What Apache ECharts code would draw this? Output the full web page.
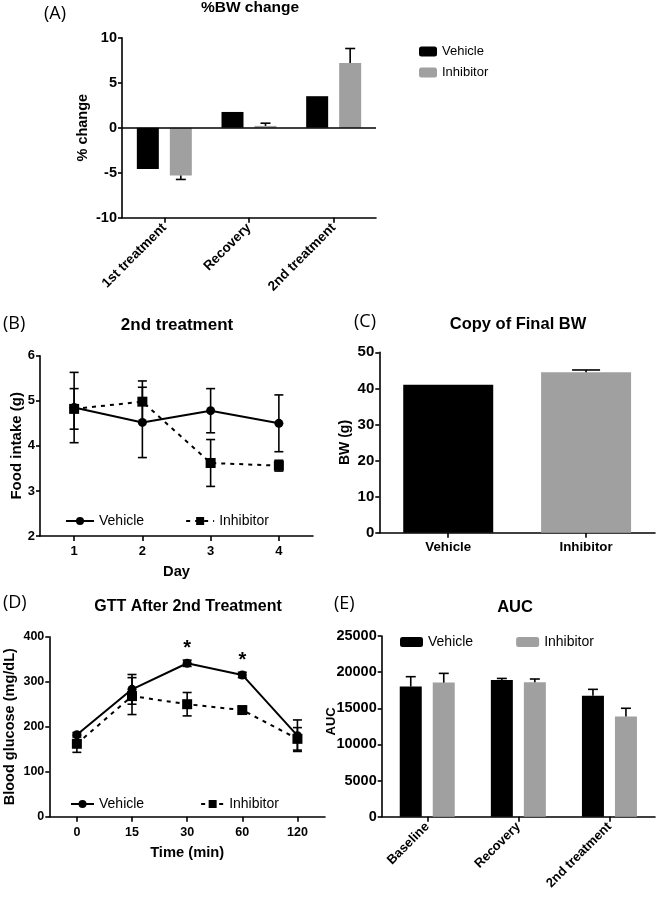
<!DOCTYPE html>
<html><head><meta charset="utf-8">
<script src="https://cdn.jsdelivr.net/npm/echarts@6/dist/echarts.min.js"></script>
<style>html,body{margin:0;padding:0;background:#fff}#c{width:658px;height:900px}</style>
</head><body><div id="c"></div>
<script>
// ---- Panel A: %BW change ----
const catsA = ['1st treatment', 'Recovery', '2nd treatment'];
const bwVeh = [-4.6, 1.75, 3.5];
const bwVehErr = [0, 0, 0];
const bwInh = [-5.3, 0.2, 7.2];
const bwInhErr = [0.45, 0.3, 1.6];

// ---- Panel B: food intake, 2nd treatment ----
const days = ['1', '2', '3', '4'];
const foodVeh = [4.85, 4.52, 4.78, 4.50];
const foodVehErr = [0.78, 0.78, 0.49, 0.63];
const foodInh = [4.82, 4.98, 3.62, 3.56];
const foodInhErr = [0.45, 0.46, 0.52, 0.12];

// ---- Panel C: final BW ----
const groups = ['Vehicle', 'Inhibitor'];
const finalBW = [41.0, 44.5];
const finalBWErr = [0, 0.6];

// ---- Panel D: GTT ----
const times = ['0', '15', '30', '60', '120'];
const gttVeh = [182, 283, 341, 315, 180];
const gttVehErr = [5, 33, 7, 6, 35];
const gttInh = [162, 268, 250, 237, 173];
const gttInhErr = [19, 41, 26, 7, 25];
const gttStars = ['', '', '*', '*', ''];

// ---- Panel E: AUC ----
const aucCats = ['Baseline', 'Recovery', '2nd treatment'];
const aucVeh = [18000, 18900, 16750];
const aucVehErr = [1370, 230, 870];
const aucInh = [18550, 18600, 13850];
const aucInhErr = [1280, 450, 1150];

const BOLD = 'Liberation Sans';
const REG = 'Liberation Sans';
const BLACK = '#000000';
const GRAY = '#a0a0a0';

function makeErr(offset, mode, cap) {
  return function (params, api) {
    const i = api.value(0), v = api.value(1), e = api.value(2);
    if (!e) return null;
    let lo, hi;
    if (mode === 'both') { lo = v - e; hi = v + e; }
    else if (v >= 0) { lo = v; hi = v + e; }
    else { lo = v - e; hi = v; }
    const a = api.coord([i, lo]), b = api.coord([i, hi]);
    const x = a[0] + offset;
    const st = { stroke: BLACK, lineWidth: 1.6 };
    const children = [{ type: 'line', shape: { x1: x, y1: a[1], x2: x, y2: b[1] }, style: st }];
    const capYs = mode === 'both' ? [a[1], b[1]] : [v >= 0 ? b[1] : a[1]];
    capYs.forEach(y => children.push({ type: 'line', shape: { x1: x - cap / 2, y1: y, x2: x + cap / 2, y2: y }, style: st }));
    return { type: 'group', children };
  };
}
function errSeries(vals, errs, gi, offset, mode, cap) {
  return {
    type: 'custom', xAxisIndex: gi, yAxisIndex: gi, z: 5, silent: true,
    renderItem: makeErr(offset, mode, cap),
    encode: { x: 0, y: 1 },
    data: vals.map((v, i) => [i, v, errs[i]])
  };
}

const axisLine = { show: true, onZero: false, lineStyle: { color: BLACK, width: 1.6 } };
const axisTick = { show: true, length: 4, lineStyle: { color: BLACK, width: 1.6 } };
function lbl(size) { return { color: BLACK, fontFamily: BOLD, fontWeight: 'bold', fontSize: size }; }

function yAxis(gi, min, max, interval, name, gap, tickSize, nameSize, namePad) {
  return {
    type: 'value', gridIndex: gi, min, max, interval, name, nameLocation: 'middle', nameGap: gap,
    nameMoveOverlap: false,
    nameTextStyle: Object.assign({ padding: namePad || 0 }, lbl(nameSize)), axisLine, axisTick, splitLine: { show: false },
    axisLabel: Object.assign({ margin: 5, formatter: v => String(v) }, lbl(tickSize))
  };
}
function xCat(gi, data, rotate, tickSize, margin, name, gap, nameSize) {
  return {
    type: 'category', gridIndex: gi, data, name: name || '', nameLocation: 'middle', nameGap: gap || 30,
    nameMoveOverlap: false,
    nameTextStyle: lbl(nameSize || 14), axisLine,
    axisTick: { show: true, alignWithLabel: true, length: 5, lineStyle: { color: BLACK, width: 1.6 } },
    axisLabel: Object.assign({ rotate: rotate || 0, margin: margin, interval: 0 }, lbl(tickSize))
  };
}

function tStyle(size) { return { color: BLACK, fontFamily: BOLD, fontWeight: 'bold', fontSize: size }; }
const tagStyle = { color: BLACK, fontFamily: 'Open Sans', fontWeight: 'normal', fontSize: 18 };
function legendText(size) { return { color: BLACK, fontFamily: REG, fontSize: size }; }

const chart = echarts.init(document.getElementById('c'), null, { renderer: 'canvas' });
chart.setOption({
  animation: false,
  backgroundColor: '#ffffff',
  title: [
    { text: '%BW change', left: 250, top: 0, textAlign: 'center', padding: 0, textStyle: tStyle(15.5) },
    { text: '(A)', left: 44, top: 5, padding: 0, textStyle: tagStyle },
    { text: '2nd treatment', left: 177, top: 317, textAlign: 'center', padding: 0, textStyle: tStyle(17) },
    { text: '(B)', left: 3, top: 315, padding: 0, textStyle: tagStyle },
    { text: 'Copy of Final BW', left: 518, top: 316, textAlign: 'center', padding: 0, textStyle: tStyle(16.5) },
    { text: '(C)', left: 354, top: 313, padding: 0, textStyle: tagStyle },
    { text: 'GTT After 2nd Treatment', left: 188, top: 599, textAlign: 'center', padding: 0, textStyle: tStyle(16) },
    { text: '(D)', left: 3, top: 594, padding: 0, textStyle: tagStyle },
    { text: 'AUC', left: 515, top: 599, textAlign: 'center', padding: 0, textStyle: tStyle(16.5) },
    { text: '(E)', left: 334, top: 595, padding: 0, textStyle: tagStyle }
  ],
  legend: [
    { data: ['Vehicle', 'Inhibitor'], orient: 'vertical', left: 414, top: 40, itemWidth: 18, itemHeight: 10, itemGap: 8,
      textStyle: legendText(13), selectedMode: false, formatter: n => n.trim() },
    { data: ['Vehicle ', 'Inhibitor '], orient: 'horizontal', left: 60, top: 509, itemWidth: 28, itemHeight: 10, itemGap: 41,
      textStyle: legendText(14), selectedMode: false, formatter: n => n.trim() },
    { data: ['Vehicle  ', 'Inhibitor  '], orient: 'horizontal', left: 65, top: 792, itemWidth: 23, itemHeight: 10, itemGap: 56,
      textStyle: legendText(14), selectedMode: false, formatter: n => n.trim() },
    { data: ['Vehicle', 'Inhibitor'], orient: 'horizontal', left: 395, top: 630, itemWidth: 23, itemHeight: 10, itemGap: 43,
      textStyle: legendText(14), selectedMode: false, formatter: n => n.trim() }
  ],
  grid: [
    { left: 122, top: 37.7, width: 254, height: 180 },
    { left: 40, top: 355.7, width: 273, height: 180.3 },
    { left: 379.3, top: 352.3, width: 275.7, height: 180.4 },
    { left: 49.3, top: 636.7, width: 275.7, height: 180 },
    { left: 381.7, top: 636, width: 273.3, height: 180.7 }
  ],
  xAxis: [
    xCat(0, catsA, 45, 13.5, 8),
    xCat(1, days, 0, 13, 9, 'Day', 28.3, 14.7),
    xCat(2, groups, 0, 13.3, 8.6),
    xCat(3, times, 0, 12.5, 9, 'Time (min)', 29, 14.7),
    xCat(4, aucCats, 45, 13, 8)
  ],
  yAxis: [
    yAxis(0, -10, 10, 5, '% change', 31.75, 14.5, 14.5),
    yAxis(1, 2, 6, 1, 'Food intake (g)', 15.5, 13, 15),
    yAxis(2, 0, 50, 10, 'BW (g)', 27.3, 15, 14),
    yAxis(3, 0, 400, 100, 'Blood glucose (mg/dL)', 32, 12.5, 14.5),
    yAxis(4, 0, 25000, 5000, 'AUC', 44, 14.5, 13, [0, 0, 0, 10])
  ],
  series: [
    // A
    { name: 'Vehicle', type: 'bar', xAxisIndex: 0, yAxisIndex: 0, data: bwVeh, barWidth: 22, barGap: '50%',
      itemStyle: { color: BLACK },
      markLine: { silent: true, symbol: 'none', label: { show: false }, lineStyle: { color: BLACK, width: 1.6, type: 'solid' },
        data: [{ yAxis: 0 }] } },
    { name: 'Inhibitor', type: 'bar', xAxisIndex: 0, yAxisIndex: 0, data: bwInh, barWidth: 22, barGap: '50%',
      itemStyle: { color: GRAY } },
    errSeries(bwVeh, bwVehErr, 0, -16.5, 'one', 10),
    errSeries(bwInh, bwInhErr, 0, 16.5, 'one', 10),
    // B
    { name: 'Vehicle ', type: 'line', xAxisIndex: 1, yAxisIndex: 1, data: foodVeh, symbol: 'circle', symbolSize: 9,
      lineStyle: { color: BLACK, width: 2 }, itemStyle: { color: BLACK }, z: 6 },
    { name: 'Inhibitor ', type: 'line', xAxisIndex: 1, yAxisIndex: 1, data: foodInh, symbol: 'rect', symbolSize: 10,
      lineStyle: { color: BLACK, width: 2, type: [4, 5] }, itemStyle: { color: BLACK }, z: 6 },
    errSeries(foodVeh, foodVehErr, 1, 0, 'both', 9),
    errSeries(foodInh, foodInhErr, 1, 0, 'both', 9),
    // C
    { name: 'Final BW', type: 'bar', xAxisIndex: 2, yAxisIndex: 2, barWidth: 90,
      data: finalBW.map((v, i) => ({ value: v, itemStyle: { color: i === 0 ? BLACK : GRAY } })) },
    errSeries(finalBW, finalBWErr, 2, 0, 'one', 28),
    // D
    { name: 'Vehicle  ', type: 'line', xAxisIndex: 3, yAxisIndex: 3, symbol: 'circle', symbolSize: 9,
      lineStyle: { color: BLACK, width: 2 }, itemStyle: { color: BLACK }, z: 6,
      data: gttVeh.map((v, i) => ({ value: v, label: { show: gttStars[i] !== '', formatter: gttStars[i], position: 'top',
        distance: 0, color: BLACK, fontFamily: REG, fontWeight: 'bold', fontSize: 20 } })) },
    { name: 'Inhibitor  ', type: 'line', xAxisIndex: 3, yAxisIndex: 3, data: gttInh, symbol: 'rect', symbolSize: 10,
      lineStyle: { color: BLACK, width: 2, type: [4, 5] }, itemStyle: { color: BLACK }, z: 6 },
    errSeries(gttVeh, gttVehErr, 3, 0, 'both', 9),
    errSeries(gttInh, gttInhErr, 3, 0, 'both', 9),
    // E
    { name: 'Vehicle', type: 'bar', xAxisIndex: 4, yAxisIndex: 4, data: aucVeh, barWidth: 22, barGap: '50%',
      itemStyle: { color: BLACK } },
    { name: 'Inhibitor', type: 'bar', xAxisIndex: 4, yAxisIndex: 4, data: aucInh, barWidth: 22, barGap: '50%',
      itemStyle: { color: GRAY } },
    errSeries(aucVeh, aucVehErr, 4, -16.5, 'one', 10),
    errSeries(aucInh, aucInhErr, 4, 16.5, 'one', 10)
  ]
});
</script>
</body></html>
